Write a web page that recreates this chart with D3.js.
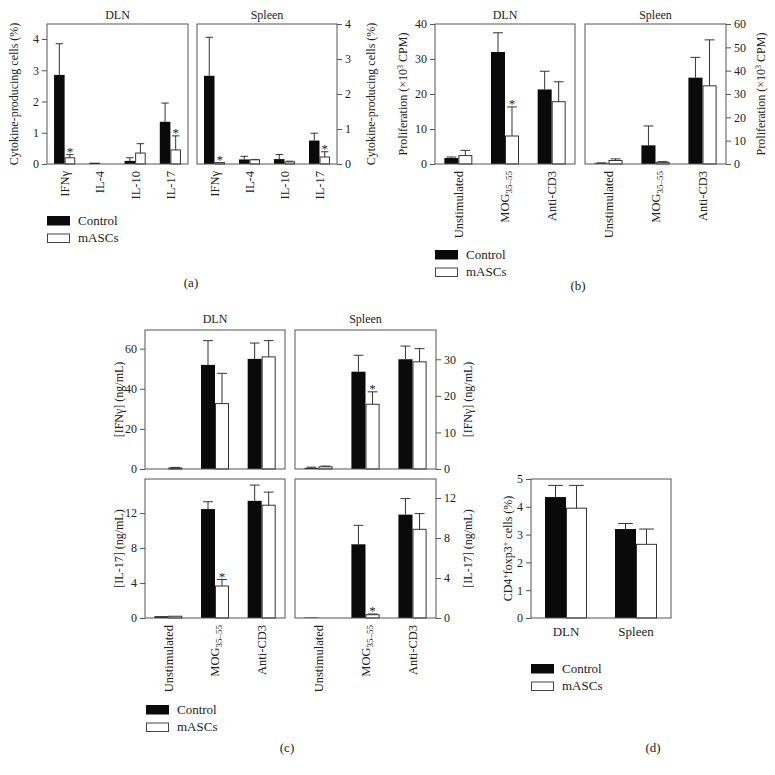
<!DOCTYPE html>
<html>
<head>
<meta charset="utf-8">
<script src="https://cdn.jsdelivr.net/npm/d3@7/dist/d3.min.js"></script>
<style>
html,body{margin:0;padding:0;background:#fff;}
svg{display:block;}
</style>
</head>
<body>
<svg id="chart" width="775" height="775"></svg>
<script>
// ---------- DATA ----------
const seriesNames = ["Control", "mASCs"];

// (a) cytokine-producing cells (%)
const aCategories = ["IFNγ", "IL-4", "IL-10", "IL-17"];
const aTicks = [0, 1, 2, 3, 4];
const aDlnControl = [2.85, 0.04, 0.10, 1.35];
const aDlnControlErr = [1.00, 0.00, 0.10, 0.60];
const aDlnMascs = [0.20, 0.00, 0.35, 0.45];
const aDlnMascsErr = [0.10, 0.00, 0.30, 0.45];
const aDlnStars = ["IFNγ", "IL-17"];
const aSpleenControl = [2.52, 0.13, 0.14, 0.67];
const aSpleenControlErr = [1.10, 0.09, 0.13, 0.21];
const aSpleenMascs = [0.04, 0.12, 0.06, 0.20];
const aSpleenMascsErr = [0.00, 0.01, 0.02, 0.15];
const aSpleenStars = ["IFNγ", "IL-17"];

// (b) proliferation (x10^3 CPM)
const stimCategories = ["Unstimulated", "MOG", "Anti-CD3"];
const bDlnTicks = [0, 10, 20, 30, 40];
const bSpleenTicks = [0, 10, 20, 30, 40, 50, 60];
const bDlnControl = [1.7, 32.0, 21.3];
const bDlnControlErr = [0.3, 5.5, 5.2];
const bDlnMascs = [2.4, 8.0, 17.8];
const bDlnMascsErr = [1.5, 8.3, 5.7];
const bDlnStars = ["MOG"];
const bSpleenControl = [0.3, 8.0, 37.0];
const bSpleenControlErr = [0.2, 8.3, 8.7];
const bSpleenMascs = [1.5, 0.7, 33.5];
const bSpleenMascsErr = [0.7, 0.3, 19.7];
const bSpleenStars = [];

// (c) IFNγ (ng/mL)
const cIfnDlnTicks = [0, 20, 40, 60];
const cIfnSpleenTicks = [0, 10, 20, 30];
const cIfnDlnControl = [0.0, 51.9, 54.9];
const cIfnDlnControlErr = [0.0, 12.1, 7.9];
const cIfnDlnMascs = [0.5, 32.6, 55.9];
const cIfnDlnMascsErr = [0.3, 15.1, 8.1];
const cIfnDlnStars = [];
const cIfnSpleenControl = [0.3, 26.6, 30.0];
const cIfnSpleenControlErr = [0.2, 4.5, 3.6];
const cIfnSpleenMascs = [0.6, 17.7, 29.3];
const cIfnSpleenMascsErr = [0.2, 3.4, 3.6];
const cIfnSpleenStars = ["MOG"];
// (c) IL-17 (ng/mL)
const cIl17Ticks = [0, 4, 8, 12];
const cIl17DlnControl = [0.2, 12.46, 13.4];
const cIl17DlnControlErr = [0.0, 0.84, 1.8];
const cIl17DlnMascs = [0.2, 3.66, 12.9];
const cIl17DlnMascsErr = [0.0, 0.74, 1.5];
const cIl17DlnStars = ["MOG"];
const cIl17SpleenControl = [0.05, 7.37, 10.34];
const cIl17SpleenControlErr = [0.0, 1.9, 1.6];
const cIl17SpleenMascs = [0.0, 0.33, 8.87];
const cIl17SpleenMascsErr = [0.0, 0.07, 1.57];
const cIl17SpleenStars = ["MOG"];

// (d) CD4+foxp3+ cells (%)
const dCategories = ["DLN", "Spleen"];
const dTicks = [0, 1, 2, 3, 4, 5];
const dControl = [4.35, 3.20];
const dControlErr = [0.42, 0.20];
const dMascs = [3.95, 2.65];
const dMascsErr = [0.82, 0.55];

// ---------- DRAWING ----------
const FONT = "'Liberation Serif', 'DejaVu Serif', serif";
const INK = "#222";
const FRAME = "#555";
const svg = d3.select("#chart");

function textEl(g, x, y, str, opts = {}) {
  const t = g.append("text")
    .attr("x", x).attr("y", y)
    .attr("font-family", FONT)
    .attr("font-size", opts.size || 12)
    .attr("fill", INK)
    .attr("text-anchor", opts.anchor || "middle")
    .text(str);
  if (opts.rotate) t.attr("transform", `rotate(${opts.rotate},${x},${y})`);
  if (opts.dy) t.attr("dy", opts.dy);
  return t;
}

function catLabel(g, cx, ytop, cat, size) {
  const t = g.append("text")
    .attr("font-family", FONT).attr("font-size", size).attr("fill", INK)
    .attr("text-anchor", "end").attr("dy", "0.35em")
    .attr("transform", `translate(${cx},${ytop}) rotate(-90)`);
  if (cat === "MOG") {
    t.append("tspan").text("MOG");
    t.append("tspan").attr("font-size", size * 0.72).attr("dy", 3).text("35–55");
  } else {
    t.text(cat);
  }
}

function panel(cfg) {
  const g = svg.append("g");
  const x = d3.scaleBand().domain(cfg.cats).range([cfg.x0, cfg.x1]);
  const inner = d3.scaleBand().domain(seriesNames).range([0, x.bandwidth()])
    .paddingInner(0).paddingOuter(0.667);
  const y = d3.scaleLinear().domain([0, cfg.ymax]).range([cfg.y1, cfg.y0]);
  const bw = inner.bandwidth();

  const rows = [];
  cfg.cats.forEach((c, i) => {
    rows.push({cat: c, s: "Control", v: cfg.ctrl[i], e: cfg.ctrlErr[i]});
    rows.push({cat: c, s: "mASCs", v: cfg.masc[i], e: cfg.mascErr[i]});
  });

  // error bars (upper only)
  const eb = g.append("g").attr("stroke", "#333").attr("stroke-width", 1);
  rows.filter(r => r.e > 0).forEach(r => {
    const cx = x(r.cat) + inner(r.s) + bw / 2;
    eb.append("line").attr("x1", cx).attr("x2", cx)
      .attr("y1", y(r.v)).attr("y2", y(r.v + r.e));
    eb.append("line").attr("x1", cx - bw * 0.35).attr("x2", cx + bw * 0.35)
      .attr("y1", y(r.v + r.e)).attr("y2", y(r.v + r.e));
  });

  // bars
  g.append("g").selectAll("rect").data(rows.filter(r => r.v > 0)).join("rect")
    .attr("x", r => x(r.cat) + inner(r.s) + (r.s === "mASCs" ? 0.5 : 0))
    .attr("width", r => bw - (r.s === "mASCs" ? 1 : 0))
    .attr("y", r => y(r.v))
    .attr("height", r => y(0) - y(r.v))
    .attr("fill", r => r.s === "Control" ? "#0a0a0a" : "#fff")
    .attr("stroke", r => r.s === "Control" ? "none" : "#333")
    .attr("stroke-width", 1);

  // stars
  (cfg.stars || []).forEach(c => {
    const i = cfg.cats.indexOf(c);
    const cx = x(c) + inner("mASCs") + bw / 2;
    textEl(g, cx, y(cfg.masc[i] + cfg.mascErr[i]) + 1, "*", {size: 13});
  });

  // frame
  g.append("rect").attr("x", cfg.x0).attr("y", cfg.y0)
    .attr("width", cfg.x1 - cfg.x0).attr("height", cfg.y1 - cfg.y0)
    .attr("fill", "none").attr("stroke", FRAME).attr("stroke-width", 1);

  // axis
  const axis = (cfg.side === "left" ? d3.axisLeft(y) : d3.axisRight(y))
    .tickValues(cfg.ticks).tickSize(5).tickPadding(3).tickFormat(d3.format("d"));
  const ag = g.append("g")
    .attr("transform", `translate(${cfg.side === "left" ? cfg.x0 : cfg.x1},0)`)
    .call(axis);
  ag.select(".domain").remove();
  ag.selectAll("line").attr("stroke", FRAME);
  ag.selectAll("text").attr("font-family", FONT).attr("font-size", 12).attr("fill", INK);

  // title
  if (cfg.title) textEl(g, (cfg.x0 + cfg.x1) / 2, cfg.titleY, cfg.title, {size: 12});

  // y label
  if (cfg.ylabel) {
    const cy = (cfg.y0 + cfg.y1) / 2;
    const t = g.append("text")
      .attr("font-family", FONT).attr("font-size", 12).attr("fill", INK)
      .attr("text-anchor", "middle").attr("dy", "0.35em")
      .attr("transform", `translate(${cfg.ylabelX},${cy}) rotate(-90)`);
    cfg.ylabel.forEach(part => {
      const ts = t.append("tspan").text(part.t);
      if (part.sup) ts.attr("font-size", 8).attr("dy", -4);
      if (part.down) ts.attr("dy", 4);
    });
  }

  // category labels
  if (cfg.xlabelY !== undefined) {
    cfg.cats.forEach(c => {
      if (cfg.horizontal) {
        textEl(g, x(c) + x.bandwidth() / 2, cfg.xlabelY, c, {size: 13});
      } else {
        catLabel(g, x(c) + x.bandwidth() / 2, cfg.xlabelY, c, cfg.xsize || 12.5);
      }
    });
  }
}

function legend(x0, y0) {
  const g = svg.append("g");
  seriesNames.forEach((s, i) => {
    const yy = y0 + i * 17.5;
    g.append("rect").attr("x", x0 + 0.5).attr("y", yy + 0.5).attr("width", 22).attr("height", 8.5)
      .attr("fill", s === "Control" ? "#0a0a0a" : "#fff")
      .attr("stroke", s === "Control" ? "#0a0a0a" : "#444").attr("stroke-width", 1);
    textEl(g, x0 + 31, yy + 8.5, s, {size: 13, anchor: "start"});
  });
}

const cytoLabel = [{t: "Cytokine-producing cells (%)"}];
const prolLabel = [{t: "Proliferation (×10"}, {t: "3", sup: true}, {t: " CPM)", down: true}];
const ifnLabel = [{t: "[IFNγ] (ng/mL)"}];
const il17Label = [{t: "[IL-17] (ng/mL)"}];
const cd4Label = [{t: "CD4"}, {t: "+", sup: true}, {t: "foxp3", down: true}, {t: "+", sup: true}, {t: " cells (%)", down: true}];

// (a)
panel({x0: 47, x1: 188, y0: 24, y1: 164, ymax: 4.48, ticks: aTicks, side: "left",
  cats: aCategories, ctrl: aDlnControl, ctrlErr: aDlnControlErr, masc: aDlnMascs, mascErr: aDlnMascsErr,
  stars: aDlnStars, title: "DLN", titleY: 19, ylabel: cytoLabel, ylabelX: 14, xlabelY: 171});
panel({x0: 197, x1: 337, y0: 24, y1: 164, ymax: 4, ticks: aTicks, side: "right",
  cats: aCategories, ctrl: aSpleenControl, ctrlErr: aSpleenControlErr, masc: aSpleenMascs, mascErr: aSpleenMascsErr,
  stars: aSpleenStars, title: "Spleen", titleY: 19, ylabel: cytoLabel, ylabelX: 371, xlabelY: 171});
legend(47, 216);
textEl(svg, 191, 287, "(a)", {size: 13});

// (b)
panel({x0: 435, x1: 575, y0: 24, y1: 164, ymax: 40, ticks: bDlnTicks, side: "left",
  cats: stimCategories, ctrl: bDlnControl, ctrlErr: bDlnControlErr, masc: bDlnMascs, mascErr: bDlnMascsErr,
  stars: bDlnStars, title: "DLN", titleY: 19, ylabel: prolLabel, ylabelX: 403, xlabelY: 171});
panel({x0: 585, x1: 726, y0: 24, y1: 164, ymax: 60, ticks: bSpleenTicks, side: "right",
  cats: stimCategories, ctrl: bSpleenControl, ctrlErr: bSpleenControlErr, masc: bSpleenMascs, mascErr: bSpleenMascsErr,
  stars: bSpleenStars, title: "Spleen", titleY: 19, ylabel: prolLabel, ylabelX: 761, xlabelY: 171});
legend(435, 250);
textEl(svg, 578, 290, "(b)", {size: 13});

// (c)
panel({x0: 145, x1: 285, y0: 330, y1: 469, ymax: 69.3, ticks: cIfnDlnTicks, side: "left",
  cats: stimCategories, ctrl: cIfnDlnControl, ctrlErr: cIfnDlnControlErr, masc: cIfnDlnMascs, mascErr: cIfnDlnMascsErr,
  stars: cIfnDlnStars, title: "DLN", titleY: 323, ylabel: ifnLabel, ylabelX: 119});
panel({x0: 295, x1: 436, y0: 330, y1: 469, ymax: 38, ticks: cIfnSpleenTicks, side: "right",
  cats: stimCategories, ctrl: cIfnSpleenControl, ctrlErr: cIfnSpleenControlErr, masc: cIfnSpleenMascs, mascErr: cIfnSpleenMascsErr,
  stars: cIfnSpleenStars, title: "Spleen", titleY: 323, ylabel: ifnLabel, ylabelX: 468});
panel({x0: 145, x1: 285, y0: 479, y1: 618, ymax: 15.9, ticks: cIl17Ticks, side: "left",
  cats: stimCategories, ctrl: cIl17DlnControl, ctrlErr: cIl17DlnControlErr, masc: cIl17DlnMascs, mascErr: cIl17DlnMascsErr,
  stars: cIl17DlnStars, ylabel: il17Label, ylabelX: 119, xlabelY: 625});
panel({x0: 295, x1: 436, y0: 479, y1: 618, ymax: 13.9, ticks: cIl17Ticks, side: "right",
  cats: stimCategories, ctrl: cIl17SpleenControl, ctrlErr: cIl17SpleenControlErr, masc: cIl17SpleenMascs, mascErr: cIl17SpleenMascsErr,
  stars: cIl17SpleenStars, ylabel: il17Label, ylabelX: 468, xlabelY: 625});
legend(146, 705);
textEl(svg, 287, 752, "(c)", {size: 13});

// (d)
panel({x0: 531, x1: 671, y0: 479, y1: 618, ymax: 5, ticks: dTicks, side: "left",
  cats: dCategories, ctrl: dControl, ctrlErr: dControlErr, masc: dMascs, mascErr: dMascsErr,
  stars: [], ylabel: cd4Label, ylabelX: 508, xlabelY: 636, horizontal: true});
legend(531, 664);
textEl(svg, 653, 752, "(d)", {size: 13});
</script>
</body>
</html>
